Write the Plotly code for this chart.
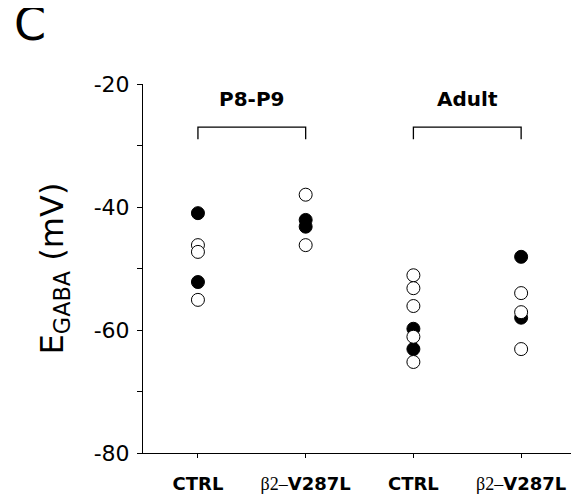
import plotly.graph_objects as go

# ---- data ----
categories = ["CTRL", "β2–V287L", "CTRL", "β2–V287L"]
tick_text = ["<b>CTRL</b>",
             "<span style='font-family:Liberation Serif'>β2–</span><b>V287L</b>",
             "<b>CTRL</b>",
             "<span style='font-family:Liberation Serif'>β2–</span><b>V287L</b>"]
groups = ["P8-P9", "Adult"]
group_members = [(0, 1), (2, 3)]

filled_values = [
    [-41.0, -52.2],          # P8-P9 CTRL
    [-42.1, -43.2],          # P8-P9 β2-V287L
    [-59.8, -63.1],          # Adult CTRL
    [-48.1, -58.0],          # Adult β2-V287L
]
open_values = [
    [-46.2, -47.3, -55.1],
    [-38.0, -46.2],
    [-51.1, -53.2, -56.1, -61.1, -65.2],
    [-54.0, -57.1, -63.1],
]

y_ticks = [-80, -60, -40, -20]
y_tick_text = ["-80", "-60", "-40", "-20"]

FONT = "DejaVu Sans, Liberation Sans, sans-serif"

fig = go.Figure()

fx, fy, ox, oy = [], [], [], []
for i, vals in enumerate(filled_values):
    fx += [i] * len(vals)
    fy += vals
for i, vals in enumerate(open_values):
    ox += [i] * len(vals)
    oy += vals

fig.add_trace(go.Scatter(x=fx, y=fy, mode="markers",
                         marker=dict(size=13, color="black",
                                     line=dict(color="black", width=1)),
                         showlegend=False, cliponaxis=False))
fig.add_trace(go.Scatter(x=ox, y=oy, mode="markers",
                         marker=dict(size=13, color="white",
                                     line=dict(color="black", width=1)),
                         showlegend=False, cliponaxis=False))

# brackets and group labels
bracket_top, bracket_bottom, label_y = -27.0, -29.0, -22.4
for name, (a, b) in zip(groups, group_members):
    fig.add_shape(type="path",
                  path=f"M {a},{bracket_bottom} L {a},{bracket_top} L {b},{bracket_top} L {b},{bracket_bottom}",
                  line=dict(color="black", width=1.3), xref="x", yref="y")
    fig.add_annotation(x=(a + b) / 2, y=label_y, text=f"<b>{name}</b>",
                       showarrow=False, xanchor="center", yanchor="middle",
                       font=dict(size=20, color="black", family=FONT))

# panel label
fig.add_annotation(xref="paper", yref="paper", x=(30 - 143) / 432, y=(453 - 24) / 369,
                   xanchor="center", yanchor="middle",
                   text="C", showarrow=False, font=dict(size=46, color="black", family=FONT))

fig.update_layout(
    width=579, height=502,
    margin=dict(l=135, r=12, t=76, b=57),
    paper_bgcolor="white", plot_bgcolor="white",
    font=dict(family=FONT, color="black"),
    xaxis=dict(range=[-0.51, 3.5], tickvals=list(range(len(categories))), ticktext=tick_text,
               showline=True, linecolor="black", linewidth=1, ticks="outside", ticklen=4,
               tickcolor="black", showgrid=False, zeroline=False, ticklabelstandoff=10,
               tickfont=dict(size=18, color="black", family=FONT)),
    yaxis=dict(range=[-80, -20], tickvals=y_ticks, ticktext=y_tick_text,
               showline=True, linecolor="black", linewidth=1,
               ticks="outside", ticklen=5, tickcolor="black", showgrid=False, zeroline=False,
               ticklabelstandoff=3,
               minor=dict(dtick=10, tick0=-80, ticks="outside", ticklen=5, tickcolor="black"),
               tickfont=dict(size=22, color="black", family=FONT),
               title=dict(text="E<sub>GABA</sub> (mV)", font=dict(size=32, color="black", family=FONT),
                          standoff=20)),
)

fig.write_html("out.html")
